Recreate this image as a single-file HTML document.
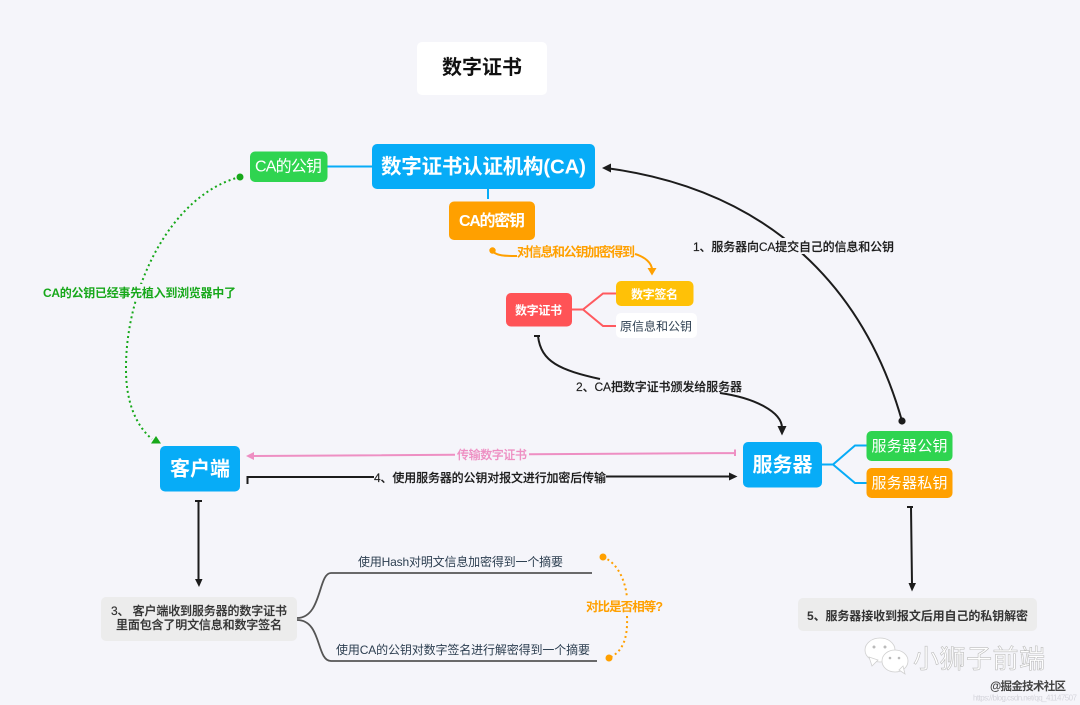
<!DOCTYPE html>
<html lang="zh">
<head>
<meta charset="utf-8">
<style>
html,body{margin:0;padding:0;background:#f5f5fa;width:1080px;height:705px;overflow:hidden}
svg{display:block}
text{font-family:"Liberation Sans","Noto Sans CJK SC",sans-serif;dominant-baseline:central;transform:translateY(.8px)}
.b{font-weight:700}
.m{font-weight:500;stroke:currentColor;stroke-width:.15}
</style>
</head>
<body>
<svg width="1080" height="705" viewBox="0 0 1080 705" xmlns="http://www.w3.org/2000/svg">
<rect width="1080" height="705" fill="#f5f5fa"/>

<!-- Title -->
<rect x="417" y="42" width="130" height="53" rx="5" fill="#fff"/>
<text x="442" y="67" font-size="20" class="b" fill="#111" textLength="80">数字证书</text>

<!-- Tree connectors -->
<g fill="none" stroke="#07acf7" stroke-width="2">
<path d="M327 166.5H372"/>
<path d="M488 189V199"/>
<path d="M822 464.5H833L855 445.5H867"/>
<path d="M833 464.5L855 483H867"/>
</g>
<g fill="none" stroke="#ff5a5f" stroke-width="2">
<path d="M572 309.5H583L603 293.5H616"/>
<path d="M583 309.5L603 326H616"/>
</g>
<g fill="none" stroke="#555" stroke-width="1.8">
<path d="M297 618C322 618 318 573 331 573H592"/>
<path d="M297 620C322 620 316 661 331 661H597"/>
</g>

<!-- Relationship 1 -->
<path d="M902 421C865 290 772 190 606 168" fill="none" stroke="#1c1c1c" stroke-width="2"/>
<polygon points="602,168 611,163.5 611,172.5" fill="#1c1c1c"/>
<circle cx="902" cy="421" r="3.6" fill="#1c1c1c"/>
<rect x="690" y="238" width="207" height="16" fill="#f5f5fa"/>
<text x="693" y="246" font-size="12" class="m" fill="#1c1c1c" color="#1c1c1c" textLength="201">1、服务器向CA提交自己的信息和公钥</text>

<!-- Relationship 2 -->
<path d="M534 336H540M538 336C541 362 560 370 600 379M720 393C755 398 782 412 782 428" fill="none" stroke="#1c1c1c" stroke-width="2"/>
<polygon points="777.5,426 786.5,426 782,435.5" fill="#1c1c1c"/>
<text x="576" y="386" font-size="12" class="m" fill="#1c1c1c" color="#1c1c1c" textLength="166">2、CA把数字证书颁发给服务器</text>

<!-- Orange encrypt -->
<path d="M492 251C497 256 505 256 517 256M635 254C645 257 652 263 652 270" fill="none" stroke="#ffa000" stroke-width="2"/>
<circle cx="492.5" cy="250.5" r="3.2" fill="#ffa000"/>
<polygon points="647.5,268 656.5,268 652,275.5" fill="#ffa000"/>
<text x="517" y="251" font-size="13" class="b" fill="#ffa000" textLength="118">对信息和公钥加密得到</text>

<!-- Green dotted -->
<path d="M240 177C170 195 125 290 126 370C126 400 135 425 152 439" fill="none" stroke="#17a81a" stroke-width="2" stroke-dasharray="2 3"/>
<circle cx="240" cy="177" r="3.5" fill="#17a81a"/>
<polygon points="151,443.5 156,436 161,443.5" fill="#17a81a"/>
<rect x="40" y="284" width="199" height="16" fill="#f5f5fa"/>
<text x="43" y="292" font-size="12" class="b" fill="#17a81a" textLength="193">CA的公钥已经事先植入到浏览器中了</text>

<!-- Pink -->
<path d="M252 456L735 453M735 449.5V456" fill="none" stroke="#ee8fc3" stroke-width="2"/>
<polygon points="246,456 254,452 254,460" fill="#ee8fc3"/>
<rect x="455" y="447" width="74" height="14" fill="#f5f5fa"/>
<text x="457" y="454" font-size="12" class="m" fill="#ee8fc3" color="#ee8fc3" textLength="70">传输数字证书</text>

<!-- Black 4 -->
<path d="M247.5 484V477H374M606 476.5H730" fill="none" stroke="#1c1c1c" stroke-width="2"/>
<polygon points="737.5,476.5 729,472.5 729,480.5" fill="#1c1c1c"/>
<text x="374" y="477" font-size="12" class="m" fill="#1c1c1c" color="#1c1c1c" textLength="232">4、使用服务器的公钥对报文进行加密后传输</text>

<!-- Vertical arrows -->
<path d="M195 501H202M198.5 501V580" fill="none" stroke="#1c1c1c" stroke-width="2"/>
<polygon points="195,579 202.5,579 199,587" fill="#1c1c1c"/>
<path d="M907 507H913M911 507L912 584" fill="none" stroke="#1c1c1c" stroke-width="2"/>
<polygon points="908.5,583 916,583 912,591.5" fill="#1c1c1c"/>

<!-- Nodes -->
<rect x="372" y="144" width="223" height="45" rx="5" fill="#07acf7"/>
<text x="381" y="166" font-size="20.5" class="b" fill="#fff" textLength="205">数字证书认证机构(CA)</text>
<rect x="250" y="151.5" width="77.5" height="30.5" rx="5" fill="#2fd450"/>
<text x="255" y="166" font-size="16" fill="#fff" textLength="67">CA的公钥</text>
<rect x="449" y="201.5" width="86" height="38.5" rx="5" fill="#ffa000"/>
<text x="459" y="220.5" font-size="16" class="b" fill="#fff" textLength="66">CA的密钥</text>

<rect x="506" y="293" width="66" height="33.5" rx="5" fill="#ff5356"/>
<text x="515" y="309.5" font-size="12" class="b" fill="#fff" textLength="47">数字证书</text>
<rect x="616" y="281" width="77.5" height="25" rx="5" fill="#ffc107"/>
<text x="631" y="293.5" font-size="12" class="b" fill="#fff" textLength="47">数字签名</text>
<rect x="616" y="313" width="81" height="25" rx="5" fill="#fff"/>
<text x="620" y="325.5" font-size="12" fill="#2c3e50" textLength="72">原信息和公钥</text>

<rect x="743" y="442" width="79" height="45.5" rx="5" fill="#07acf7"/>
<text x="752.5" y="464.5" font-size="20" class="b" fill="#fff" textLength="60">服务器</text>
<rect x="866.5" y="431" width="86" height="30" rx="5" fill="#2fd450"/>
<text x="871.5" y="445.5" font-size="15" fill="#fff" textLength="76">服务器公钥</text>
<rect x="866.5" y="468" width="86" height="30" rx="5" fill="#ffa000"/>
<text x="871.5" y="482.5" font-size="15" fill="#fff" textLength="76">服务器私钥</text>

<rect x="160" y="446" width="80" height="45.5" rx="5" fill="#07acf7"/>
<text x="170" y="468.5" font-size="20" class="b" fill="#fff" textLength="60">客户端</text>

<rect x="101" y="597" width="196" height="44" rx="5" fill="#ececec"/>
<text x="111" y="610" font-size="12" class="m" fill="#333" color="#333" textLength="176">3、 客户端收到服务器的数字证书</text>
<text x="116" y="624" font-size="12" class="m" fill="#333" color="#333" textLength="166">里面包含了明文信息和数字签名</text>

<text x="358" y="561" font-size="12" fill="#2c3e50" textLength="205">使用Hash对明文信息加密得到一个摘要</text>
<text x="336" y="649" font-size="12" fill="#2c3e50" textLength="254">使用CA的公钥对数字签名进行解密得到一个摘要</text>

<!-- Orange dotted compare -->
<path d="M603 557C620 564 626 585 627 598M627 616C628 640 622 652 609 658" fill="none" stroke="#ffa000" stroke-width="2" stroke-dasharray="2 3"/>
<circle cx="603" cy="557" r="3.5" fill="#ffa000"/>
<circle cx="609" cy="658" r="3.5" fill="#ffa000"/>
<text x="586" y="606" font-size="12.5" class="b" fill="#ffa000" textLength="77">对比是否相等?</text>

<rect x="798" y="598" width="239" height="33" rx="5" fill="#ececec"/>
<text x="807" y="615" font-size="12" class="b" fill="#333" textLength="221">5、服务器接收到报文后用自己的私钥解密</text>

<!-- Watermark -->
<g fill="#fff" stroke="#d0d0d0" stroke-width="0.8">
<ellipse cx="880" cy="650" rx="15" ry="12"/>
<polygon points="869,657 872,666 878,660"/>
<ellipse cx="895" cy="661" rx="13" ry="11"/>
<polygon points="899,670 905,674 903,666"/>
</g>
<g fill="#bbb">
<circle cx="874" cy="647" r="1.5"/><circle cx="885" cy="647" r="1.5"/>
<circle cx="890" cy="658" r="1.3"/><circle cx="899" cy="658" r="1.3"/>
</g>
<text x="913" y="658" font-size="26" fill="#fff" stroke="#bdbdbd" stroke-width="0.6" textLength="132">小狮子前端</text>
<text x="990" y="686" font-size="11.5" class="b" fill="#444" textLength="76">@掘金技术社区</text>
<text x="973" y="697" font-size="8" fill="#d5d5dc" textLength="104">https://blog.csdn.net/qq_41147507</text>
</svg>
</body>
</html>
